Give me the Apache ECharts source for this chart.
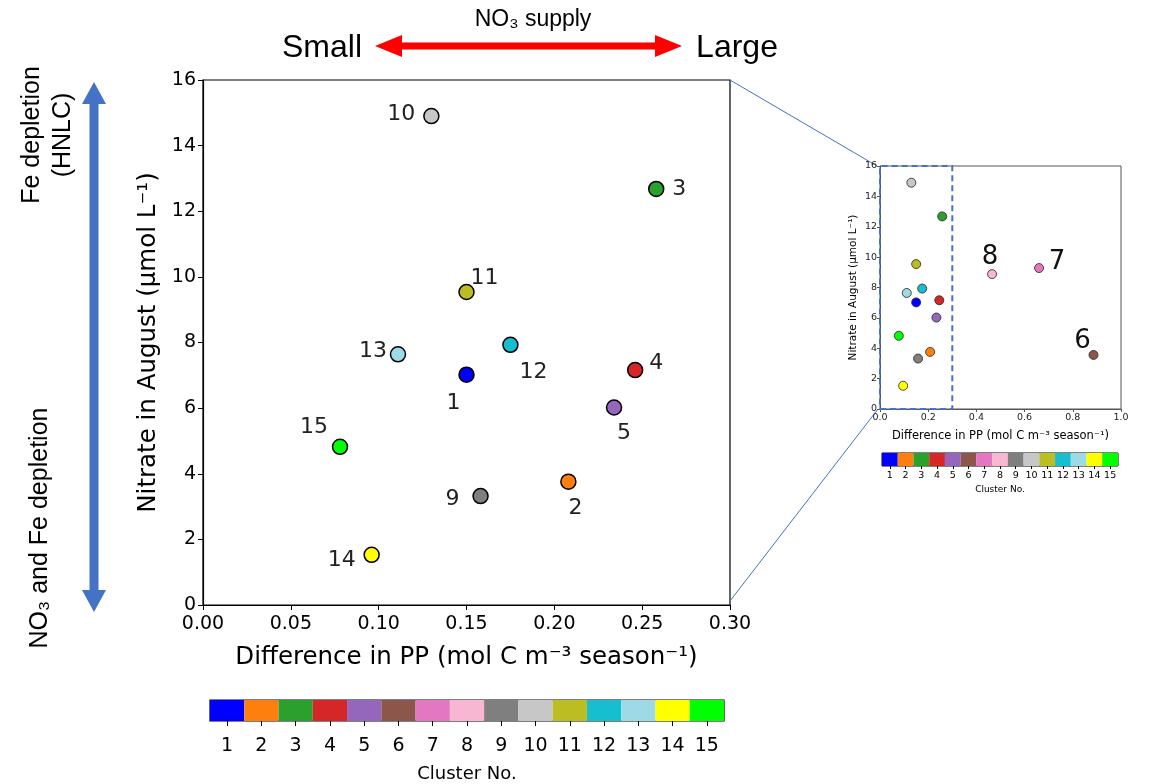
<!DOCTYPE html>
<html>
<head>
<meta charset="utf-8">
<script src="https://cdn.jsdelivr.net/npm/echarts@6/dist/echarts.min.js"></script>
<style>
  html, body { margin: 0; padding: 0; background: #fff; }
  #main { width: 1150px; height: 784px; }
</style>
</head>
<body>
<div id="main"></div>
<script>
// cluster data
var clusters = [1, 2, 3, 4, 5, 6, 7, 8, 9, 10, 11, 12, 13, 14, 15];
var ppDiff   = [0.150, 0.208, 0.258, 0.246, 0.234, 0.886, 0.660, 0.465, 0.158, 0.130, 0.150, 0.175, 0.111, 0.096, 0.078];
var nitrate  = [7.02, 3.76, 12.68, 7.16, 6.02, 3.56, 9.28, 8.88, 3.32, 14.90, 9.54, 7.93, 7.64, 1.53, 4.82];
var boxRange = [[0, 0], [0.3, 16]];

var clusterColors = ['#0000ff', '#ff7f0e', '#2ca02c', '#d62728', '#9467bd', '#8c564b', '#e377c2',
	'#f7b6d2', '#7f7f7f', '#c7c7c7', '#bcbd22', '#17becf', '#9edae5', '#ffff00', '#00ff00'];

// where the number sits around each dot (px)
var mainLabelOff = {
	1: [-13, 29], 2: [7, 27], 3: [23, 0], 4: [21, -7], 5: [10, 26], 9: [-28, 3],
	10: [-30, -2], 11: [18, -14], 12: [23, 27], 13: [-25, -3], 14: [-30, 5], 15: [-26, -20]
};
var insetLabelOff = { 6: [-11, -14], 7: [18, -6], 8: [-2, -17] };

var FONT = 'DejaVu Sans';
var chart = echarts.init(document.getElementById('main'));

var mainPts = [], insetPts = [], barData = [];
for (var i = 0; i < clusters.length; i++) {
	var c = clusters[i];
	if (ppDiff[i] <= 0.3) {
		var o = mainLabelOff[c] || [0, 0];
		mainPts.push({
			value: [ppDiff[i], nitrate[i]],
			itemStyle: { color: clusterColors[i] },
			label: { show: true, formatter: String(c), offset: o }
		});
	}
	var io = insetLabelOff[c];
	insetPts.push({
		value: [ppDiff[i], nitrate[i]],
		itemStyle: { color: clusterColors[i] },
		label: { show: !!io, formatter: String(c), offset: io || [0, 0] }
	});
	barData.push({ value: 1, itemStyle: { color: clusterColors[i] } });
}

var tickStyle = { show: true, inside: false, length: 5, lineStyle: { color: '#000', width: 1 } };

var option = {
	animation: false,
	backgroundColor: '#fff',
	grid: [
		{ left: 203, top: 80, width: 527, height: 525, show: true, borderColor: '#000', borderWidth: 1.2 },
		{ left: 880, top: 166, width: 241, height: 243, show: true, borderColor: '#555', borderWidth: 1 },
		{ left: 210, top: 700, width: 514, height: 26, show: true, borderColor: '#000', borderWidth: 1.2 },
		{ left: 882, top: 453, width: 236, height: 13, show: true, borderColor: '#000', borderWidth: 1 }
	],
	xAxis: [
		{
			gridIndex: 0, type: 'value', min: 0, max: 0.3, interval: 0.05,
			axisLine: { lineStyle: { color: '#000', width: 1.2 } }, axisTick: tickStyle, splitLine: { show: false },
			axisLabel: { fontFamily: FONT, fontSize: 19, color: '#000', margin: 10,
				formatter: function (v) { return v.toFixed(2); } },
			name: 'Difference in PP (mol C m\u207B\u00B3 season\u207B\u00B9)', nameLocation: 'middle', nameGap: 40,
			nameTextStyle: { fontFamily: FONT, fontSize: 24.5, color: '#000' }
		},
		{
			gridIndex: 1, type: 'value', min: 0, max: 1, interval: 0.2,
			axisLine: { lineStyle: { color: '#555' } }, axisTick: { show: true, length: 3, lineStyle: { color: '#555' } },
			splitLine: { show: false },
			axisLabel: { fontFamily: FONT, fontSize: 9.5, color: '#222', margin: 4,
				formatter: function (v) { return v.toFixed(1); } },
			name: 'Difference in PP (mol C m\u207B\u00B3 season\u207B\u00B9)', nameLocation: 'middle', nameGap: 21,
			nameTextStyle: { fontFamily: FONT, fontSize: 11.5, color: '#000' }
		},
		{
			gridIndex: 2, type: 'category', data: clusters,
			axisLine: { show: false }, axisTick: { show: true, alignWithLabel: true, length: 5, lineStyle: { color: '#000' } },
			axisLabel: { fontFamily: FONT, fontSize: 19, color: '#000', margin: 16 },
			name: 'Cluster No.', nameLocation: 'middle', nameGap: 44,
			nameTextStyle: { fontFamily: FONT, fontSize: 18, color: '#000' }
		},
		{
			gridIndex: 3, type: 'category', data: clusters,
			axisLine: { show: false }, axisTick: { show: true, alignWithLabel: true, length: 3, lineStyle: { color: '#000' } },
			axisLabel: { fontFamily: FONT, fontSize: 9.5, color: '#000', margin: 5 },
			name: 'Cluster No.', nameLocation: 'middle', nameGap: 19,
			nameTextStyle: { fontFamily: FONT, fontSize: 9, color: '#000' }
		}
	],
	yAxis: [
		{
			gridIndex: 0, type: 'value', min: 0, max: 16, interval: 2,
			axisLine: { lineStyle: { color: '#000', width: 1.2 } }, axisTick: tickStyle, splitLine: { show: false },
			axisLabel: { fontFamily: FONT, fontSize: 19, color: '#000', margin: 7 },
			name: 'Nitrate in August (\u03BCmol L\u207B\u00B9)', nameLocation: 'middle', nameGap: 42,
			nameTextStyle: { fontFamily: FONT, fontSize: 24.5, color: '#000' }
		},
		{
			gridIndex: 1, type: 'value', min: 0, max: 16, interval: 2,
			axisLine: { lineStyle: { color: '#555' } }, axisTick: { show: true, length: 3, lineStyle: { color: '#555' } },
			splitLine: { show: false },
			axisLabel: { fontFamily: FONT, fontSize: 9.5, color: '#222', margin: 3 },
			name: 'Nitrate in August (\u03BCmol L\u207B\u00B9)', nameLocation: 'middle', nameGap: 21,
			nameTextStyle: { fontFamily: FONT, fontSize: 10.5, color: '#000' }
		},
		{ gridIndex: 2, type: 'value', min: 0, max: 1, show: false },
		{ gridIndex: 3, type: 'value', min: 0, max: 1, show: false }
	],
	series: [
		{
			type: 'scatter', xAxisIndex: 0, yAxisIndex: 0, symbolSize: 15,
			itemStyle: { borderColor: '#000', borderWidth: 1.5, opacity: 1 },
			label: { position: 'inside', fontFamily: FONT, fontSize: 22, color: '#222' },
			data: mainPts
		},
		{
			type: 'scatter', xAxisIndex: 1, yAxisIndex: 1, symbolSize: 9,
			itemStyle: { borderColor: '#222', borderWidth: 0.8, opacity: 1 },
			label: { position: 'inside', fontFamily: FONT, fontSize: 26, color: '#111' },
			data: insetPts,
			markArea: {
				silent: true,
				itemStyle: { color: 'rgba(0,0,0,0)', borderColor: '#4472c4', borderWidth: 2, borderType: [6, 4] },
				data: [[{ coord: boxRange[0] }, { coord: boxRange[1] }]]
			}
		},
		{
			type: 'bar', xAxisIndex: 2, yAxisIndex: 2, barWidth: '100%', barCategoryGap: 0,
			data: barData
		},
		{
			type: 'bar', xAxisIndex: 3, yAxisIndex: 3, barWidth: '100%', barCategoryGap: 0,
			data: barData
		}
	],
	graphic: [
		// zoom lines from the main frame to the inset
		{ type: 'line', shape: { x1: 730, y1: 80, x2: 877, y2: 166 }, style: { stroke: '#4472c4', lineWidth: 1 } },
		{ type: 'line', shape: { x1: 730, y1: 601, x2: 878, y2: 409 }, style: { stroke: '#4472c4', lineWidth: 1 } },
		// red double arrow
		{
			type: 'polygon',
			shape: { points: [[375, 46], [402, 35], [402, 42.5], [655, 42.5], [655, 35], [682, 46],
				[655, 57], [655, 49.5], [402, 49.5], [402, 57]] },
			style: { fill: '#ff0000' }
		},
		{ type: 'text', x: 322, y: 48, style: { text: 'Small', font: '32px "Liberation Sans"', fill: '#000', textAlign: 'center', textVerticalAlign: 'middle' } },
		{ type: 'text', x: 737, y: 48, style: { text: 'Large', font: '32px "Liberation Sans"', fill: '#000', textAlign: 'center', textVerticalAlign: 'middle' } },
		{ type: 'text', x: 533, y: 20, style: { text: 'NO\u2083 supply', font: '23px "Liberation Sans"', fill: '#000', textAlign: 'center', textVerticalAlign: 'middle' } },
		// blue vertical double arrow
		{
			type: 'polygon',
			shape: { points: [[94, 82], [106, 104], [98.5, 104], [98.5, 590], [106, 590], [94, 612],
				[82, 590], [89.5, 590], [89.5, 104], [82, 104]] },
			style: { fill: '#4472c4' }
		},
		{ type: 'text', x: 32, y: 135, rotation: Math.PI / 2, style: { text: 'Fe depletion', font: '25px "Liberation Sans"', fill: '#000', textAlign: 'center', textVerticalAlign: 'middle' } },
		{ type: 'text', x: 63, y: 135, rotation: Math.PI / 2, style: { text: '(HNLC)', font: '25px "Liberation Sans"', fill: '#000', textAlign: 'center', textVerticalAlign: 'middle' } },
		{ type: 'text', x: 40, y: 528, rotation: Math.PI / 2, style: { text: 'NO\u2083 and Fe depletion', font: '25px "Liberation Sans"', fill: '#000', textAlign: 'center', textVerticalAlign: 'middle' } }
	]
};

chart.setOption(option);
</script>
</body>
</html>
